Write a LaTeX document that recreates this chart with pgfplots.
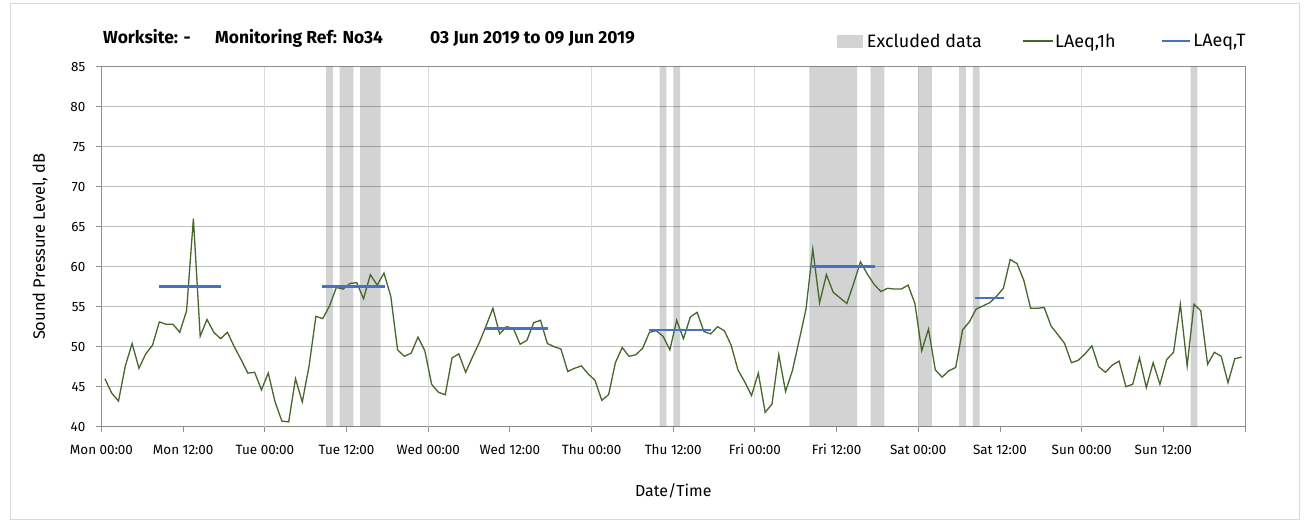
\documentclass[border=0pt]{standalone}
\usepackage{fontspec}
\setmainfont{Fira Sans}
\usepackage{pgfplots}
\usepackage{pgfplotstable}
\pgfplotsset{compat=1.18}

\definecolor{bandgrey}{HTML}{D3D3D3}
\definecolor{laeqgreen}{HTML}{46662A}
\definecolor{laeqblue}{HTML}{4472C4}
\definecolor{hgrid}{HTML}{C0C0C0}
\definecolor{vgrid}{HTML}{DADADA}
\definecolor{axisgrey}{HTML}{8F8F8F}
\definecolor{framegrey}{HTML}{D9D9D9}

% hourly LAeq,1h (hours from Mon 00:00, plotted at mid-hour)
\pgfplotstableread{
t laeq
0.5 46.0
1.5 44.2
2.5 43.2
3.5 47.6
4.5 50.4
5.5 47.3
6.5 49.1
7.5 50.2
8.5 53.1
9.5 52.8
10.5 52.8
11.5 51.8
12.5 54.5
13.5 66.0
14.5 51.3
15.5 53.4
16.5 51.8
17.5 51.0
18.5 51.8
19.5 50.0
20.5 48.4
21.5 46.7
22.5 46.8
23.5 44.6
24.5 46.7
25.5 43.1
26.5 40.7
27.5 40.6
28.5 46.0
29.5 43.1
30.5 47.6
31.5 53.8
32.5 53.5
33.5 55.1
34.5 57.4
35.5 57.2
36.5 57.9
37.5 58.0
38.5 56.0
39.5 59.0
40.5 57.7
41.5 59.2
42.5 56.3
43.5 49.6
44.5 48.8
45.5 49.2
46.5 51.2
47.5 49.5
48.5 45.3
49.5 44.3
50.5 44.0
51.5 48.6
52.5 49.1
53.5 46.8
54.5 48.7
55.5 50.5
56.5 52.6
57.5 54.8
58.5 51.6
59.5 52.5
60.5 52.3
61.5 50.3
62.5 50.8
63.5 53.0
64.5 53.3
65.5 50.4
66.5 50.0
67.5 49.7
68.5 46.9
69.5 47.3
70.5 47.6
71.5 46.6
72.5 45.8
73.5 43.3
74.5 44.0
75.5 48.0
76.5 49.9
77.5 48.8
78.5 49.0
79.5 49.8
80.5 51.8
81.5 52.0
82.5 51.3
83.5 49.6
84.5 53.3
85.5 51.0
86.5 53.7
87.5 54.3
88.5 51.9
89.5 51.6
90.5 52.5
91.5 52.0
92.5 50.2
93.5 47.1
94.5 45.6
95.5 43.9
96.5 46.7
97.5 41.8
98.5 42.8
99.5 49.0
100.5 44.4
101.5 47.0
102.5 50.8
103.5 54.7
104.5 62.2
105.5 55.5
106.5 59.0
107.5 56.8
108.5 56.1
109.5 55.4
110.5 57.9
111.5 60.6
112.5 59.1
113.5 57.8
114.5 56.9
115.5 57.3
116.5 57.2
117.5 57.2
118.5 57.7
119.5 55.4
120.5 49.5
121.5 52.2
122.5 47.1
123.5 46.2
124.5 47.0
125.5 47.4
126.5 52.1
127.5 53.1
128.5 54.7
129.5 55.1
130.5 55.5
131.5 56.3
132.5 57.3
133.5 60.9
134.5 60.4
135.5 58.3
136.5 54.8
137.5 54.8
138.5 54.9
139.5 52.6
140.5 51.5
141.5 50.4
142.5 48.0
143.5 48.3
144.5 49.1
145.5 50.1
146.5 47.5
147.5 46.8
148.5 47.7
149.5 48.2
150.5 45.0
151.5 45.3
152.5 48.6
153.5 44.9
154.5 48.0
155.5 45.3
156.5 48.4
157.5 49.3
158.5 55.3
159.5 47.6
160.5 55.3
161.5 54.5
162.5 47.8
163.5 49.3
164.5 48.8
165.5 45.5
166.5 48.5
167.5 48.7
}\hourly

% excluded periods: 85 marks the start of a band, 0 its end
\pgfplotstableread{
t excl
33 85
34 0
35 85
37 0
38 85
41 0
82 85
83 0
84 85
85 0
104 85
111 0
113 85
115 0
120 85
122 0
126 85
127 0
128 85
129 0
160 85
161 0
}\excluded

% LAeq,T over each daytime period
\pgfplotstableread{
t laeqT
8.4 57.5
17.6 57.5
nan nan
32.4 57.5
41.6 57.5
nan nan
56.4 52.3
65.6 52.3
nan nan
80.4 52.1
89.6 52.1
nan nan
104.4 60.05
113.6 60.05
nan nan
128.4 56.1
132.6 56.1
}\periods

\begin{document}
\begin{tikzpicture}
\path[use as bounding box] (0,0) rectangle (1307bp,528bp);
\draw[framegrey, line width=0.8bp] (10.5bp,9bp) rectangle (1299.5bp,525bp);
\begin{axis}[
  at={(101.5bp,101.3bp)}, anchor=south west,
  scale only axis,
  width=1143.5bp, height=360bp,
  xmin=0, xmax=168, ymin=40, ymax=85,
  xtick={0,12,...,168},
  xticklabels={Mon 00:00,Mon 12:00,Tue 00:00,Tue 12:00,Wed 00:00,Wed 12:00,
    Thu 00:00,Thu 12:00,Fri 00:00,Fri 12:00,Sat 00:00,Sat 12:00,
    Sun 00:00,Sun 12:00,{}},
  ytick={40,45,...,85},
  extra x ticks={24,48,72,96,120,144},
  extra x tick labels={},
  extra x tick style={xmajorgrids=true, major tick length=0pt,
    major grid style={draw=vgrid, line width=1bp}},
  xmajorgrids=false, ymajorgrids=true,
  major grid style={draw=hgrid, line width=0.9bp},
  axis line style={draw=axisgrey, line width=0.9bp},
  tick style={draw=axisgrey, line width=0.9bp},
  tick align=outside, major tick length=5bp,
  xtick pos=bottom, ytick pos=left,
  /pgf/number format/assume math mode=true,
  tick label style={font=\fontsize{13.5}{15}\selectfont, text=black},
  x tick label style={anchor=center, yshift=-18bp},
  y tick label style={anchor=east, inner sep=0pt, xshift=-11bp},
  xlabel={Date/Time},
  ylabel={Sound Pressure Level, dB},
  every axis x label/.style={at={(axis description cs:0.5,-0.1786)}, anchor=center,
    font=\fontsize{16}{18}\selectfont},
  every axis y label/.style={at={(axis description cs:-0.0538,0.5)}, rotate=90, anchor=center,
    font=\fontsize{16.5}{18}\selectfont},
  unbounded coords=jump,
  legend columns=3,
  legend cell align=left,
  legend style={draw=none, fill=none, at={(axis description cs:0.643,1.071)},
    anchor=west, inner sep=0pt,
    font=\fontsize{18}{20}\selectfont,
    nodes={inner sep=2bp},
    /tikz/column 1/.append style={column sep=2bp},
    /tikz/column 2/.append style={column sep=38bp},
    /tikz/column 4/.append style={column sep=43bp}},
]
% translucent black over white gives the band grey and lets the grid show through
\addplot[ybar interval, fill=black, fill opacity=0.173, draw=none,
  legend image code/.code={\fill[bandgrey, fill opacity=1] (0bp,-6.5bp) rectangle (26bp,6.5bp);}]
  table[x=t, y=excl] {\excluded};
\addlegendentry{Excluded data}
\addplot[laeqgreen, line width=1.3bp, mark=none,
  legend image code/.code={\draw[laeqgreen, line width=1.3bp] (0bp,0bp) -- (30bp,0bp);}]
  table[x=t, y=laeq] {\hourly};
\addlegendentry{LAeq,1h}
\addplot[laeqblue, line width=2.6bp, mark=none,
  legend image code/.code={\draw[laeqblue, line width=2.6bp] (0bp,0bp) -- (28bp,0bp);}]
  table[x=t, y=laeqT] {\periods};
\addlegendentry{LAeq,T}
\end{axis}
\begin{scope}[every node/.style={anchor=base west, inner sep=0pt,
    font=\bfseries\fontsize{17.5}{20}\selectfont}]
\node at (103bp,484bp) {Worksite: -};
\node at (215bp,484bp) {Monitoring Ref: No34};
\node at (430bp,484bp) {03 Jun 2019 to 09 Jun 2019};
\end{scope}
\end{tikzpicture}
\end{document}
